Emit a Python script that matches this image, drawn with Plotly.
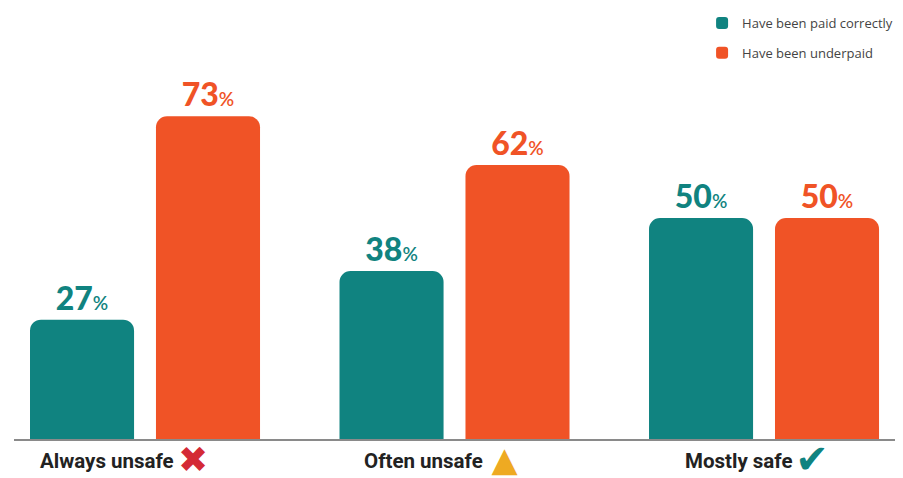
import plotly.graph_objects as go

categories = ["Always unsafe", "Often unsafe", "Mostly safe"]
paid_correctly = [27, 38, 50]
underpaid = [73, 62, 50]
series_names = ["Have been paid correctly", "Have been underpaid"]
icons = ["✖", "▲", "✔"]

TEAL = "#108380"
ORANGE = "#f05326"
icon_colors = ["#d42a35", "#eeaa22", TEAL]
icon_sizes = [36, 34, 40]
label_starts = [-107, -93, -81]   # px offset of label start from category centre
icon_centres = [48, 50, 48]       # px offset of icon centre from category centre

x = list(range(len(categories)))

fig = go.Figure()
for name, vals, col, grp in [(series_names[0], paid_correctly, TEAL, "a"),
                             (series_names[1], underpaid, ORANGE, "b")]:
    fig.add_trace(go.Bar(
        x=x, y=vals, name=name, marker=dict(color=col, line=dict(width=0)),
        legendgroup=grp, hoverinfo="skip",
        text=[f"{v}<span style='font-size:19px;font-weight:600'>%</span>" for v in vals],
        textposition="outside", cliponaxis=False,
        textfont=dict(family="Lato, 'Open Sans', sans-serif", size=32, color=col, weight=900),
    ))

annotations = []
for i, c in enumerate(categories):
    annotations.append(dict(
        x=i, y=0, xref="x", yref="y", xanchor="left", yanchor="middle",
        yshift=-22, xshift=label_starts[i], text=c, showarrow=False,
        font=dict(family="Roboto, sans-serif", size=20.5, color="#222222", weight=700),
    ))
    annotations.append(dict(
        x=i, y=0, xref="x", yref="y", xanchor="center", yanchor="middle",
        yshift=-20, xshift=icon_centres[i], text=icons[i], showarrow=False,
        width=60, height=50, valign="middle", align="center",
        font=dict(family="DejaVu Sans", size=icon_sizes[i], color=icon_colors[i]),
    ))

# page body has an 8px margin, so the figure is sized and laid out to compensate
fig.update_layout(
    width=895, height=470,
    margin=dict(l=6, r=0, t=0, b=39),
    paper_bgcolor="white", plot_bgcolor="white",
    barmode="group", bargap=0.186, bargroupgap=0.174, barcornerradius=11,
    xaxis=dict(range=[-0.4233, 2.449], showticklabels=False, showgrid=False, zeroline=False,
               showline=True, linecolor="#8a8a8a", linewidth=1.5, ticks=""),
    yaxis=dict(range=[0, 97.5], visible=False, showgrid=False, zeroline=False),
    legend=dict(x=0.774, xanchor="left", y=1.0, yanchor="top",
                bgcolor="rgba(0,0,0,0)",
                font=dict(family="'Open Sans', sans-serif", size=13, color="#444444"),
                tracegroupgap=10, itemclick=False),
    showlegend=True,
    annotations=annotations,
)

fig.write_html("out.html")
